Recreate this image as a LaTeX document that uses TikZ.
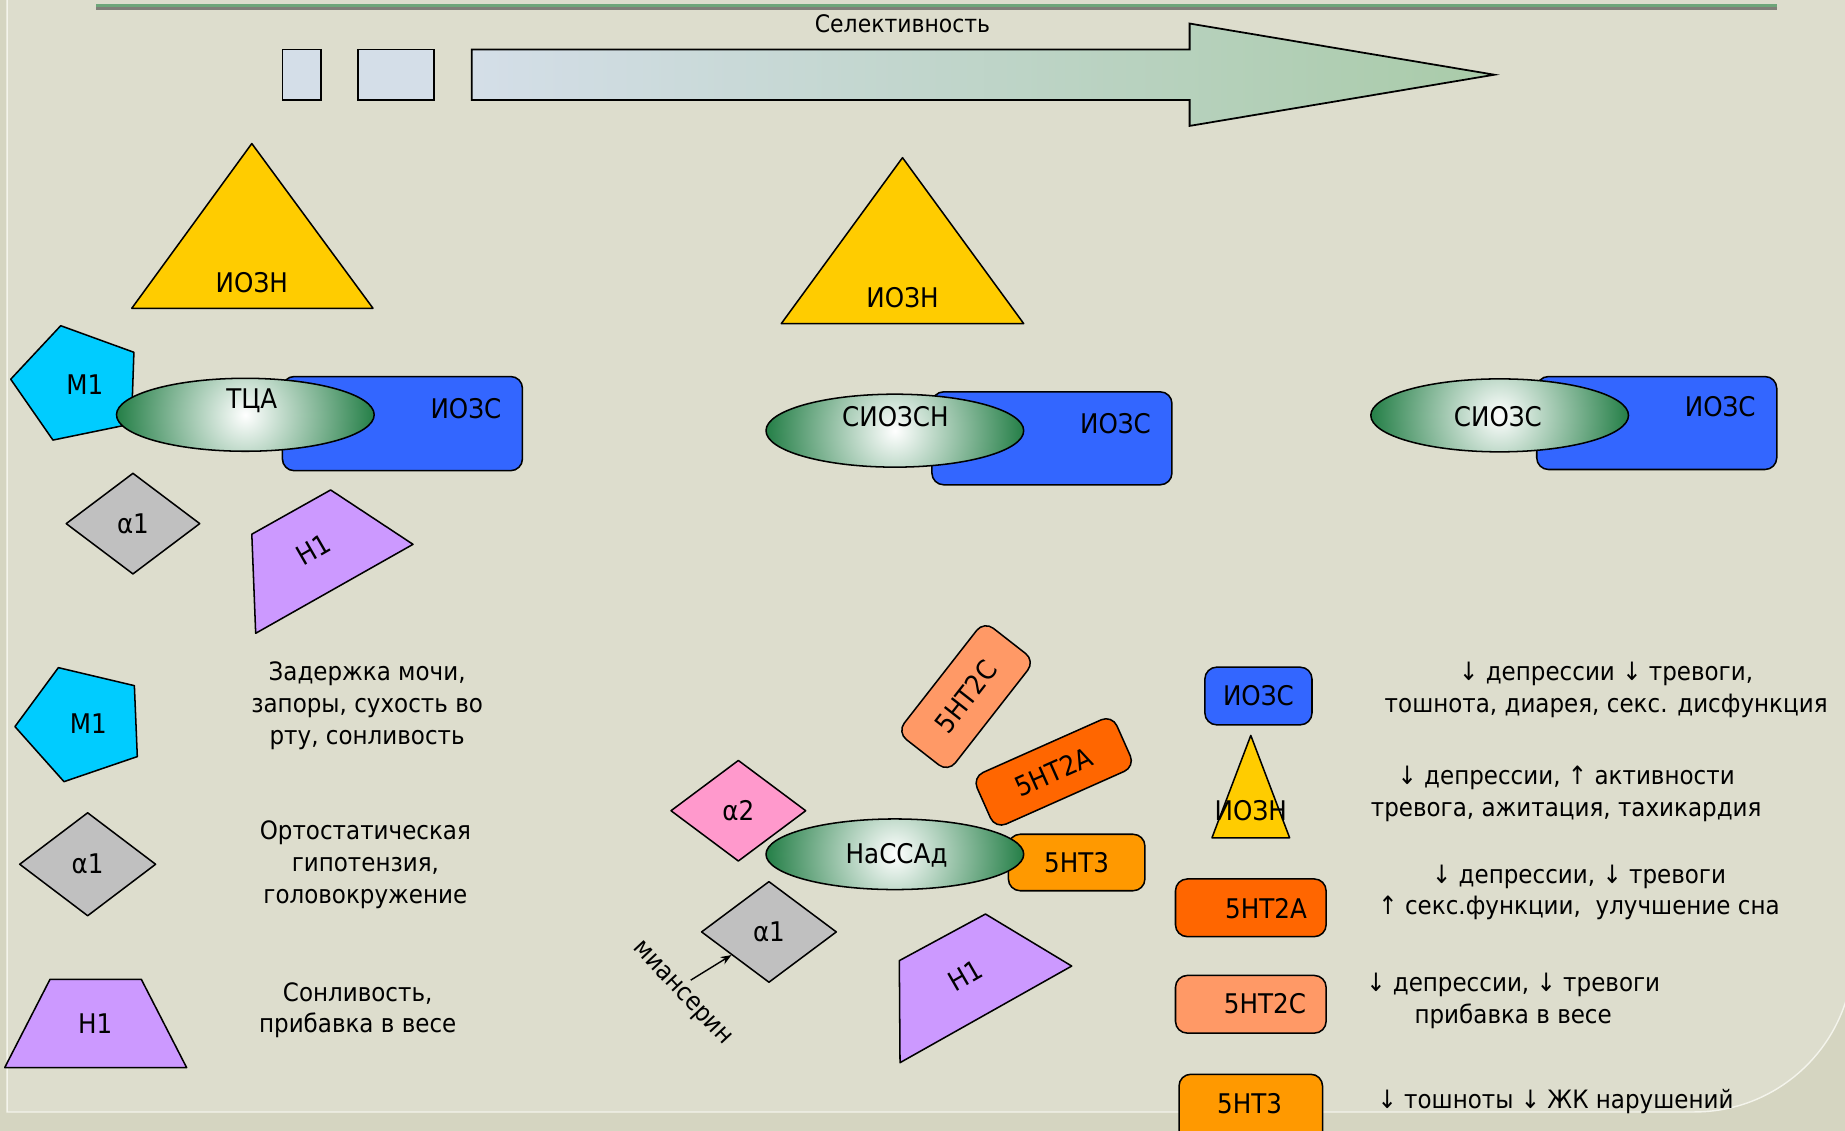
\documentclass[tikz,border=0pt]{standalone}
\usepackage{fontspec}
\setmainfont{DejaVu Sans}[FakeStretch=0.91]
\usetikzlibrary{shapes.geometric,arrows.meta}
\definecolor{bgout}{HTML}{D5D5C1}
\definecolor{panel}{HTML}{DDDDCD}
\definecolor{paneledge}{HTML}{F4F4EC}
\definecolor{topgreen}{HTML}{6EA67A}
\definecolor{topgrey}{HTML}{807F78}
\definecolor{arrL}{HTML}{D4DEE8}
\definecolor{arrR}{HTML}{A9CBA9}
\definecolor{cyel}{HTML}{FFCC00}
\definecolor{cblue}{HTML}{3366FF}
\definecolor{ccyan}{HTML}{00CCFF}
\definecolor{cgray}{HTML}{C0C0C0}
\definecolor{clil}{HTML}{CC99FF}
\definecolor{cpink}{HTML}{FF99CC}
\definecolor{cor}{HTML}{FF9900}
\definecolor{cdor}{HTML}{FF6600}
\definecolor{clor}{HTML}{FF9966}
\definecolor{cgreen}{HTML}{237E46}
\tikzset{
  shp/.style={draw=black, line width=1.3pt, line join=round},
  lbl/.style={font=\fontsize{23}{27}\selectfont, inner sep=0pt},
  txt/.style={font=\fontsize{21.5}{27}\selectfont, align=center, inner sep=0pt},
  rbox/.style={shp, rounded corners=10pt, inner sep=0pt, font=\fontsize{23}{27}\selectfont},
  ell/.style={shp, ellipse, inner sep=0pt,
    path picture={\shade[inner color=white, outer color=cgreen]
      (path picture bounding box.center) circle[radius=110pt];}},
  dia/.style={shp, diamond, inner sep=0pt, fill=cgray, font=\fontsize{23}{27}\selectfont},
}
\begin{document}
\begin{tikzpicture}[x=1pt,y=-1pt]
\useasboundingbox (0,0) rectangle (1568,961);
% background
\fill[bgout] (0,0) rectangle (1568,961);
\fill[panel] (6,-5) -- (1580,-5) -- (1575,810) .. controls (1575,884.5) and (1514.5,945) .. (1440,945) -- (6,945) -- cycle;
\draw[paneledge, line width=1.2pt] (6,-5) -- (6,945) -- (1440,945) .. controls (1514.5,945) and (1575,884.5) .. (1575,810);
% top rule
\draw[topgrey, line width=2.6pt] (82,7.5) -- (1510,7.5);
\draw[topgreen, line width=2.2pt] (82,4.5) -- (1510,4.5);
% selectivity arrow
\filldraw[arrL, draw=black, line width=1.5pt] (240,42) rectangle (273,85);
\filldraw[arrL, draw=black, line width=1.5pt] (304,42) rectangle (369,85);
\shade[left color=arrL, right color=arrR, draw=black, line width=1.5pt, line join=miter]
  (401,42) -- (1011,42) -- (1011,20) -- (1270,63.5) -- (1011,107) -- (1011,85) -- (401,85) -- cycle;
\node[font=\fontsize{20.5}{24}\selectfont, inner sep=0pt] (sel) at (767,20) {Селективность};

% ===== left column =====
\filldraw[shp, fill=cyel] (214,122) -- (317,262) -- (112,262) -- cycle;
\node[lbl] (t1) at (214,240) {ИОЗН};
\filldraw[shp, fill=ccyan] (51.6,276.8) -- (113.8,299.4) -- (111.7,360.3) -- (45,374) -- (9.1,322.3) -- cycle;
\node[lbl] (m1a) at (72,327) {М1};
\node[rbox, fill=cblue, minimum width=204pt, minimum height=80pt] (r1) at (342,360) {};
\node[lbl] (r1l) at (396,347) {ИОЗС};
\node[ell, minimum width=219pt, minimum height=62pt] (e1) at (208.5,352.5) {};
\node[lbl] (e1l) at (214,341) {ТЦА};
\node[dia, minimum width=114pt, minimum height=86pt] (a1a) at (113,445) {α1};
\filldraw[shp, fill=clil] (214,454) -- (281,416.4) -- (351,462.6) -- (217.3,538.2) -- cycle;
\node[lbl, rotate=30] (h1a) at (266,467) {Н1};

% ===== middle column =====
\filldraw[shp, fill=cyel] (767,134) -- (870,275) -- (664,275) -- cycle;
\node[lbl] (t2) at (767,253) {ИОЗН};
\node[rbox, fill=cblue, minimum width=204pt, minimum height=79pt] (r2) at (894,372.5) {};
\node[lbl] (r2l) at (948,360) {ИОЗС};
\node[ell, minimum width=219pt, minimum height=62pt] (e2) at (760.5,366) {};
\node[lbl] (e2l) at (761,354) {СИОЗСН};

% ===== right column =====
\node[rbox, fill=cblue, minimum width=204pt, minimum height=79pt] (r3) at (1408,359.5) {};
\node[lbl] (r3l) at (1462,346) {ИОЗС};
\node[ell, minimum width=219pt, minimum height=62pt] (e3) at (1274.5,353) {};
\node[lbl] (e3l) at (1273,354) {СИОЗС};

% ===== left legend =====
\filldraw[shp, fill=ccyan] (49.6,567.4) -- (114.2,582.7) -- (116.7,643) -- (54.4,664.3) -- (12.7,617.5) -- cycle;
\node[lbl] (m1b) at (75,615) {М1};
\node[txt] (d1) at (312,600) {Задержка мочи,\\запоры, сухость во\\рту, сонливость};
\node[dia, minimum width=116pt, minimum height=88pt] (a1b) at (74.5,734.5) {α1};
\node[txt] (d2) at (310.5,735) {Ортостатическая\\гипотензия,\\головокружение};
\filldraw[shp, fill=clil] (42.5,832.3) -- (120.1,832.3) -- (158.6,907.3) -- (4,907.3) -- cycle;
\node[lbl] (h1b) at (81,870) {Н1};
\node[txt] (d3) at (304,858.5) {Сонливость,\\прибавка в весе};

% ===== NaSSA group =====
\node[rbox, fill=clor, minimum width=120pt, minimum height=55pt, rotate=52] (c2c) at (821,592) {5НТ2С};
\node[rbox, fill=cdor, minimum width=130pt, minimum height=48pt, rotate=24] (c2a) at (895.5,656) {5НТ2А};
\node[rbox, fill=cor, minimum width=116pt, minimum height=48pt] (c3) at (915,733) {5НТ3};
\node[dia, fill=cpink, minimum width=115pt, minimum height=86pt] (a2) at (627.5,689) {α2};
\node[dia, minimum width=115pt, minimum height=86pt] (a1m) at (653.5,792) {α1};
\node[ell, minimum width=219pt, minimum height=60pt] (e4) at (760.5,726) {};
\node[lbl] (e4l) at (762,727) {НаССАд};
\filldraw[shp, fill=clil] (764.3,816.4) -- (837.5,776.8) -- (910.8,821) -- (764.9,903.1) -- cycle;
\node[lbl, rotate=30] (h1c) at (820,829) {Н1};
\coordinate (ms) at (587,833);
\draw[line width=1.2pt, -{Stealth[length=9pt,width=7pt]}] (ms) -- (a1m);
\node[font=\fontsize{21.5}{27}\selectfont, inner sep=0pt, rotate=-47] (mian) at (579,845) {миансерин};

% ===== right legend =====
\node[rbox, fill=cblue, minimum width=91pt, minimum height=49pt] (k1) at (1069.5,591.5) {ИОЗС};
\filldraw[shp, fill=cyel] (1063,625) -- (1096,712) -- (1030,712) -- cycle;
\node[lbl] (k2) at (1063,689) {ИОЗН};
\node[rbox, fill=cdor, minimum width=128pt, minimum height=49pt] (k3) at (1063,771.5) {};
\node[lbl] (k3l) at (1076,772) {5НТ2А};
\node[rbox, fill=clor, minimum width=128pt, minimum height=49pt] (k4) at (1063,853.5) {};
\node[lbl] (k4l) at (1075,853) {5НТ2С};
\node[rbox, fill=cor, minimum width=122pt, minimum height=62pt] (k5) at (1063,944) {};
\node[lbl] (k5l) at (1062,938) {5НТ3};

\node[txt] (s1) at (1365,586.5) {↓ депрессии ↓ тревоги,\\тошнота, диарея, секс. дисфункция};
\node[txt] (s2) at (1331,674.5) {↓ депрессии, ↑ активности\\тревога, ажитация, тахикардия};
\node[txt] (s3) at (1342,758.5) {↓ депрессии, ↓ тревоги\\↑ секс.функции,\ \ улучшение сна};
\node[txt] (s4) at (1286,850.5) {↓ депрессии, ↓ тревоги\\прибавка в весе};
\node[txt] (s5) at (1322,936) {↓ тошноты ↓ ЖК нарушений};
\end{tikzpicture}
\end{document}
